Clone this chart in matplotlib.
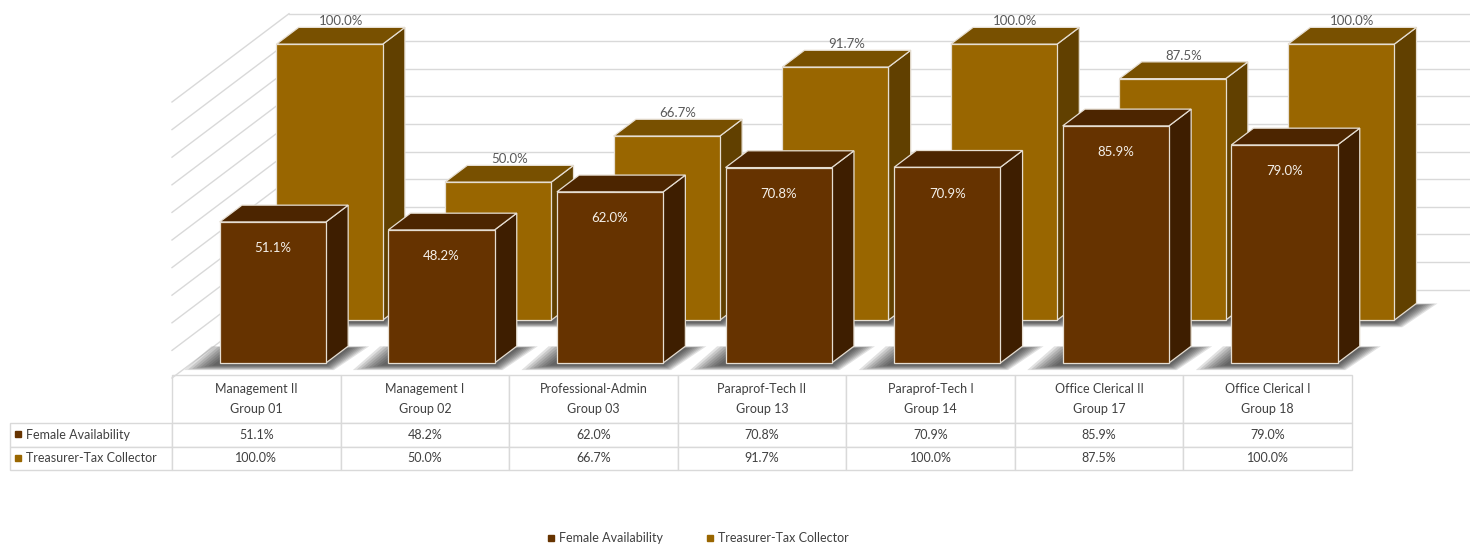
import numpy as np
import matplotlib.pyplot as plt
from matplotlib.patches import Polygon
from matplotlib.table import Table
from matplotlib.lines import Line2D

# chart data
groups = ["Management II\nGroup 01", "Management I\nGroup 02", "Professional-Admin\nGroup 03",
          "Paraprof-Tech II\nGroup 13", "Paraprof-Tech I\nGroup 14",
          "Office Clerical II\nGroup 17", "Office Clerical I\nGroup 18"]
female = [51.1, 48.2, 62.0, 70.8, 70.9, 85.9, 79.0]
treasurer = [100.0, 50.0, 66.7, 91.7, 100.0, 87.5, 100.0]
series_names = ["Female Availability", "Treasurer-Tax Collector"]

plt.rcParams['font.family'] = ['Lato', 'DejaVu Sans']

W, H = 1470, 548
fig = plt.figure(figsize=(W / 100, H / 100), dpi=100)
ax = fig.add_axes([0, 0, 1, 1])

# one x unit = one category column, one y unit = 1 %
col_px = 168.6
pct_px = 2.76
left_px, floor_px = 172, 378
ax.set_xlim(-0.5 - left_px / col_px, -0.5 + (W - left_px) / col_px)
ax.set_ylim(-(H - floor_px) / pct_px, floor_px / pct_px)
ax.axis('off')

# oblique projection of the floor depth
DX, DY = 0.694, 32.0
bar_w, bar_d = 0.63, 0.19
grid_c = '#d9d9d9'


def proj(x, z, d):
    return x + d * DX, z + d * DY


# back wall and side wall gridlines
n = len(groups)
for z in range(0, 101, 10):
    ax.plot([-0.5 + DX, ax.get_xlim()[1]], [z + DY, z + DY], color=grid_c, lw=1, zorder=1)
    ax.plot([-0.5, -0.5 + DX], [z, z + DY], color=grid_c, lw=1, zorder=1)


def draw_bar(xc, val, d, face, top, side, zo):
    x0, x1 = xc - bar_w / 2, xc + bar_w / 2
    # soft shadow on the floor, darker close to the bar
    for e in np.linspace(0.12, 0.01, 8):
        foot = [proj(x0 - 0.03 - e * 1.4, -0.8 - e * 10, d - e * 0.15),
                proj(x1 + e * 0.5, -0.8 - e * 10, d - e * 0.15),
                proj(x1 + e * 0.9, -0.8, d + bar_d + e * 0.2),
                proj(x0 - 0.03 - e * 1.4, -0.8, d + bar_d + e * 0.2)]
        ax.add_patch(Polygon(foot, closed=True, fc='#1a1a1a', ec='none', alpha=0.13, zorder=zo))
    ec = '#e6ded2'
    fr = [proj(x0, 0, d), proj(x1, 0, d), proj(x1, val, d), proj(x0, val, d)]
    tp = [proj(x0, val, d), proj(x1, val, d), proj(x1, val, d + bar_d), proj(x0, val, d + bar_d)]
    sd = [proj(x1, 0, d), proj(x1, 0, d + bar_d), proj(x1, val, d + bar_d), proj(x1, val, d)]
    for pts, c in ((sd, side), (tp, top), (fr, face)):
        ax.add_patch(Polygon(pts, closed=True, fc=c, ec=ec, lw=0.9, zorder=zo + 1))


x = np.arange(n) - 0.02
d_back, d_front = 0.655, 0.17

for i in range(n):
    draw_bar(x[i], treasurer[i], d_back, '#996600', '#785000', '#614000', 2)
    lx, ly = proj(x[i], treasurer[i], d_back + bar_d / 2)
    ax.annotate(f"{treasurer[i]:.1f}%", (lx, ly + bar_d * DY / 2), xytext=(0, 4.5),
                textcoords='offset points', ha='center', va='center',
                fontsize=9.5, color='#595959', zorder=3)

for i in range(n):
    draw_bar(x[i], female[i], d_front, '#663300', '#4c2500', '#3e1e00', 4)
    lx, ly = proj(x[i], female[i], d_front)
    ax.annotate(f"{female[i]:.1f}%", (lx, ly), xytext=(0, -19),
                textcoords='offset points', ha='center', va='center',
                fontsize=9.5, color='#f4f0ea', zorder=6)

# data table under the chart
tbl = Table(ax, bbox=[10 / W, 1 - 470 / H, (1352 - 10) / W, (470 - 375) / H])
label_w, head_h, row_h = 162, 48, 23.5
txt_c = '#404040'
for j, g in enumerate(groups):
    c = tbl.add_cell(0, j + 1, col_px, head_h, text=g, loc='center', edgecolor=grid_c)
    c.get_text().set_linespacing(1.75)
for r, (name, vals) in enumerate(zip(series_names, [female, treasurer])):
    tbl.add_cell(r + 1, 0, label_w, row_h, text=name, loc='left', edgecolor=grid_c)
    for j, v in enumerate(vals):
        tbl.add_cell(r + 1, j + 1, col_px, row_h, text=f"{v:.1f}%", loc='center', edgecolor=grid_c)
tbl.auto_set_font_size(False)
tbl.set_fontsize(9)
for cell in tbl.get_celld().values():
    cell.get_text().set_color(txt_c)
    cell.set_linewidth(1)
ax.add_table(tbl)

# series keys in the table's row labels
for yy, c in ((434, '#663300'), (458, '#996600')):
    ax.plot([18 / W], [1 - yy / H], marker='s', ms=4.5, color=c, ls='none',
            transform=ax.transAxes, zorder=8)

handles = [Line2D([], [], marker='s', ls='none', color=c, ms=5) for c in ('#663300', '#996600')]
fig.legend(handles, series_names, loc='center', bbox_to_anchor=(698 / W, 1 - 538 / H), ncol=2,
           frameon=False, fontsize=9, handlelength=0.6, handletextpad=0.4, columnspacing=3.4,
           labelcolor=txt_c)

fig.savefig('out.png', dpi=100)
